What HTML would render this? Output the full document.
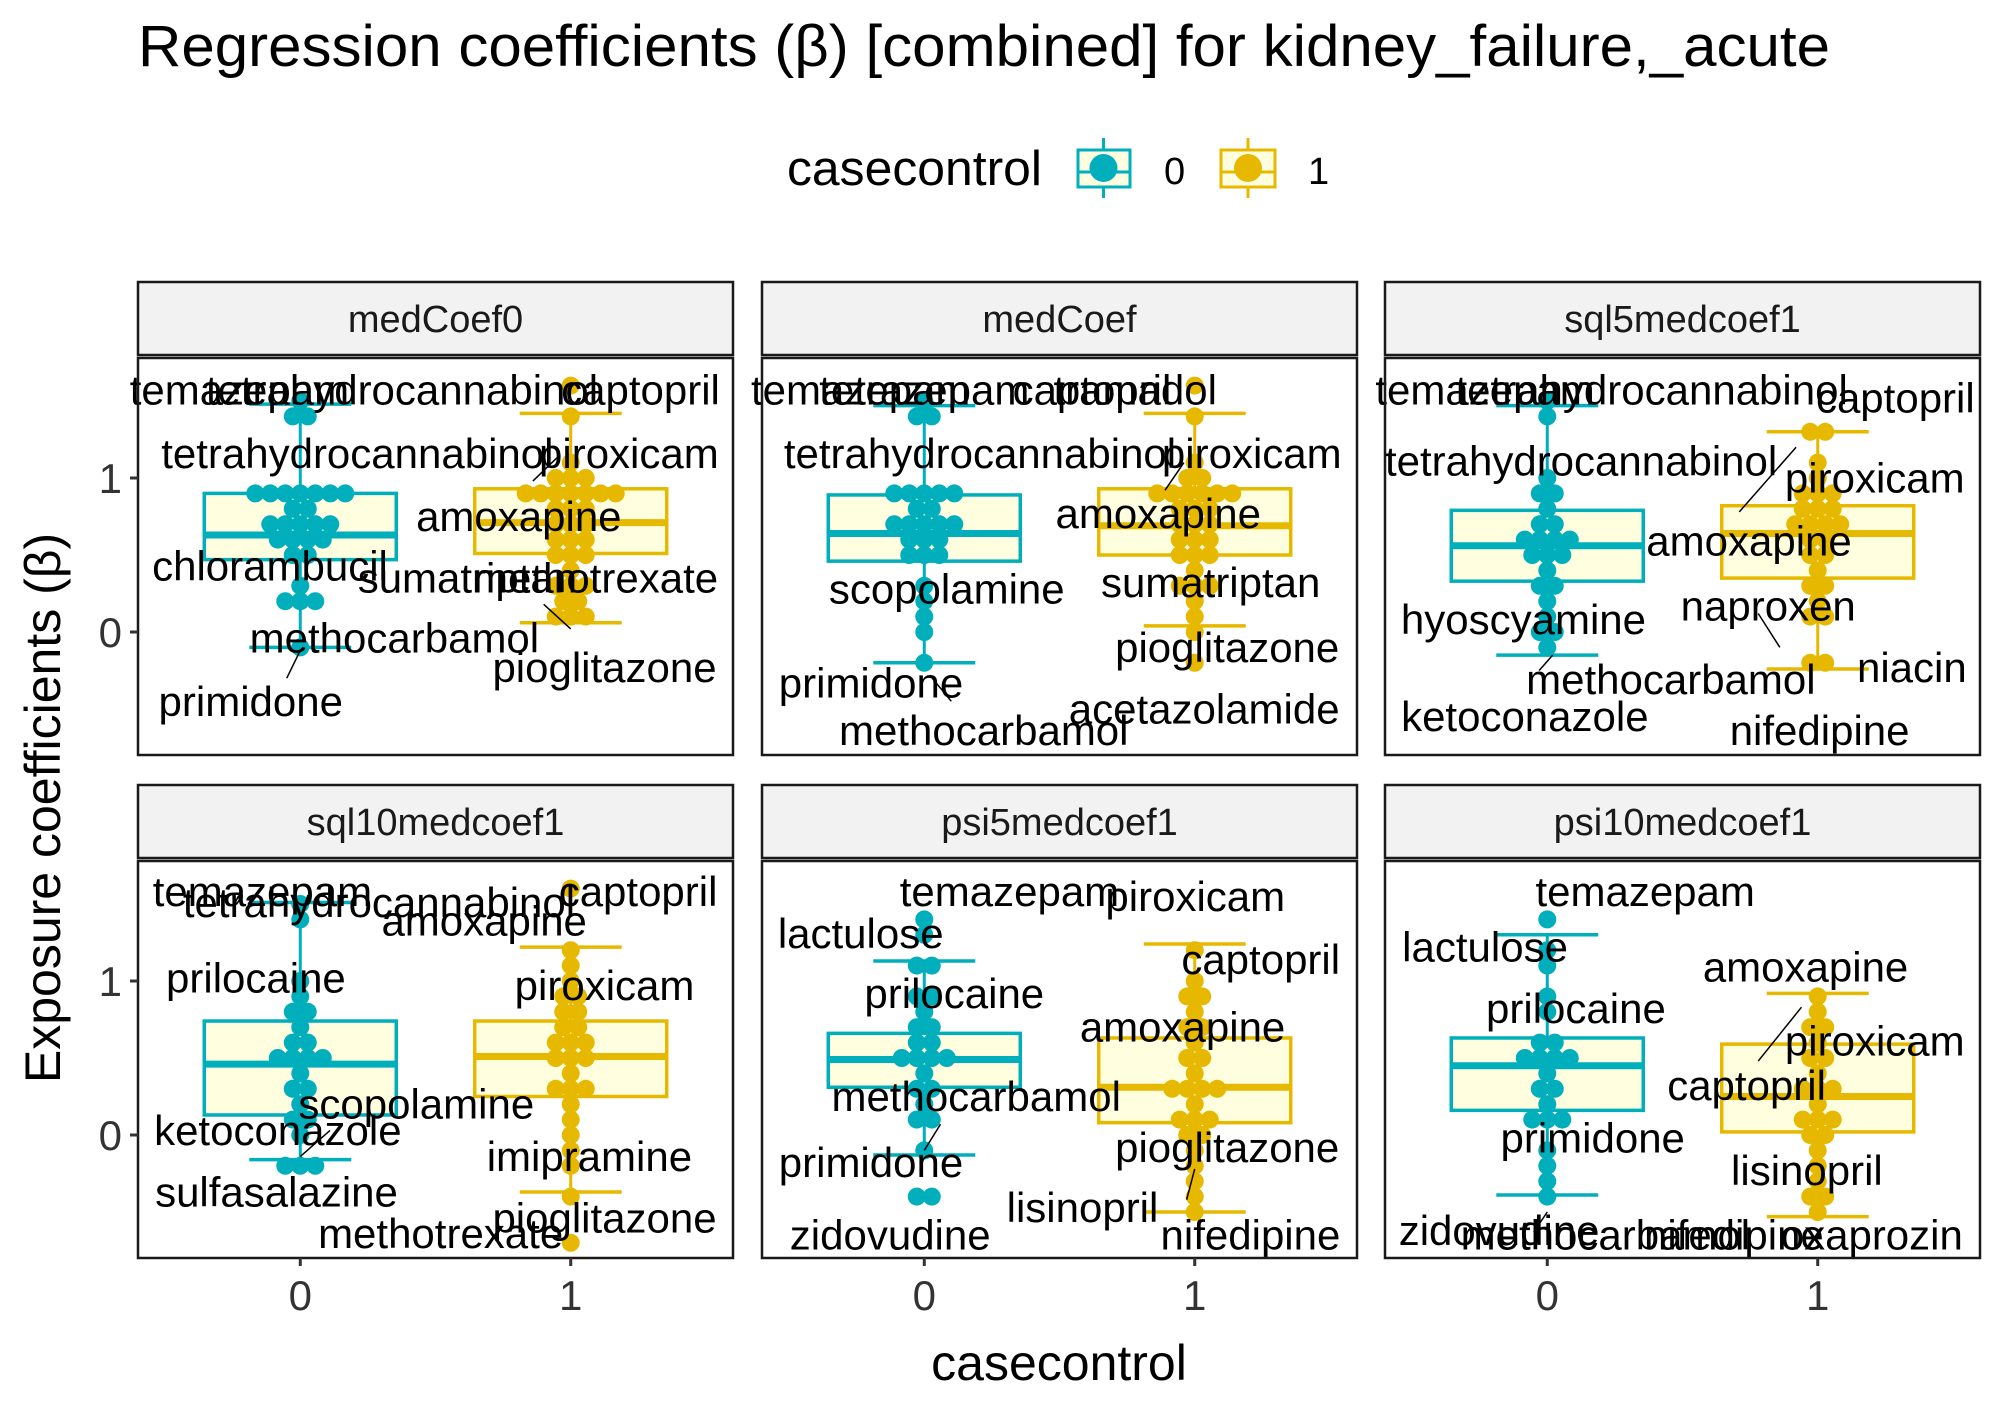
<!DOCTYPE html>
<html><head><meta charset="utf-8">
<style>
body{margin:0;background:#fff;}
svg{display:block;font-family:"Liberation Sans",sans-serif;}
</style></head>
<body>
<svg id="chart" width="2007" height="1417" viewBox="0 0 2007 1417" xmlns="http://www.w3.org/2000/svg">
<rect width="2007" height="1417" fill="#fff"/>
<text x="138" y="66" font-size="58" textLength="1692" lengthAdjust="spacingAndGlyphs">Regression coefficients (β) [combined]  for kidney_failure,_acute</text>
<g>
<text x="787" y="185" font-size="49" textLength="255" lengthAdjust="spacingAndGlyphs">casecontrol</text>
<g>
<line x1="1103.5" y1="138" x2="1103.5" y2="198" stroke="#00AFBB" stroke-width="3"/>
<rect x="1078" y="150" width="52" height="37" fill="#ffffe0" stroke="#00AFBB" stroke-width="3"/>
<line x1="1078" y1="172" x2="1130" y2="172" stroke="#00AFBB" stroke-width="3"/>
<circle cx="1103.5" cy="168" r="14" fill="#00AFBB"/>
<text x="1164" y="184" font-size="38">0</text>
</g>
<g>
<line x1="1248" y1="138" x2="1248" y2="198" stroke="#E7B800" stroke-width="3"/>
<rect x="1221" y="150" width="54" height="37" fill="#ffffe0" stroke="#E7B800" stroke-width="3"/>
<line x1="1221" y1="172" x2="1275" y2="172" stroke="#E7B800" stroke-width="3"/>
<circle cx="1248" cy="168" r="14" fill="#E7B800"/>
<text x="1308" y="184" font-size="38">1</text>
</g>
</g>
<text transform="translate(60,808) rotate(-90)" text-anchor="middle" font-size="50">Exposure coefficients (β)</text>
<text x="1059" y="1380" text-anchor="middle" font-size="50">casecontrol</text>
<g id="panels"></g>
</svg>
<script>
const panelNames = ["medCoef0","medCoef","sql5medcoef1","sql10medcoef1","psi5medcoef1","psi10medcoef1"];
const groups = ["0","1"];
const yTicks = [0,1];
// box stats per panel: [whiskerLow, Q1, median, Q3, whiskerHigh]
const box0 = [[-0.1,0.47,0.63,0.9,1.48],[-0.2,0.46,0.64,0.89,1.47],[-0.15,0.33,0.56,0.79,1.47],[-0.16,0.13,0.46,0.74,1.51],[-0.13,0.31,0.49,0.66,1.13],[-0.39,0.16,0.45,0.63,1.3]];
const box1 = [[0.06,0.51,0.71,0.93,1.42],[0.04,0.5,0.69,0.93,1.42],[-0.24,0.35,0.64,0.82,1.3],[-0.37,0.25,0.51,0.74,1.22],[-0.5,0.08,0.31,0.63,1.24],[-0.53,0.02,0.25,0.59,0.92]];
const pts0 = [
[1.48,1.4,1.4,0.95,0.95,0.95,0.95,0.9,0.9,0.9,0.8,0.8,0.72,0.72,0.65,0.65,0.65,0.6,0.6,0.6,0.55,0.5,0.45,0.35,0.22,0.22,0.22,-0.1],
[1.47,1.4,1.4,0.95,0.95,0.9,0.9,0.9,0.8,0.8,0.72,0.72,0.65,0.65,0.65,0.6,0.6,0.55,0.5,0.5,0.45,0.35,0.22,0.1,0.0,-0.2],
[1.47,1.4,1.0,0.9,0.85,0.8,0.7,0.65,0.6,0.6,0.55,0.55,0.5,0.5,0.45,0.4,0.35,0.3,0.2,0.1,0.0,-0.05,-0.15],
[1.51,1.35,1.0,0.9,0.8,0.75,0.7,0.6,0.55,0.5,0.5,0.45,0.45,0.4,0.35,0.3,0.2,0.1,0.05,0,-0.16,-0.16,-0.16],
[1.45,1.3,1.1,1.1,0.95,0.85,0.8,0.7,0.65,0.6,0.55,0.5,0.5,0.5,0.45,0.4,0.35,0.3,0.2,0.1,0.05,-0.1,-0.36,-0.36],
[1.45,1.22,1.1,0.95,0.75,0.6,0.55,0.5,0.5,0.45,0.45,0.4,0.35,0.3,0.2,0.15,0.15,0.05,-0.1,-0.2,-0.3,-0.39]];
const pts1 = [
[1.62,1.42,1.1,1.0,1.0,1.0,0.95,0.95,0.9,0.9,0.9,0.9,0.85,0.8,0.8,0.75,0.7,0.7,0.65,0.6,0.6,0.55,0.5,0.5,0.45,0.4,0.35,0.3,0.25,0.2,0.2,0.1,0.06,0.06],
[1.62,1.42,1.1,1.0,1.0,0.95,0.95,0.9,0.9,0.9,0.85,0.8,0.8,0.75,0.7,0.7,0.65,0.6,0.6,0.55,0.5,0.5,0.45,0.4,0.35,0.3,0.25,0.2,0.1,0.04,-0.2],
[1.3,1.25,1.1,1.0,0.95,0.9,0.85,0.8,0.8,0.75,0.7,0.7,0.65,0.65,0.6,0.55,0.5,0.45,0.4,0.35,0.3,0.2,0.1,0.05,-0.2,-0.24],
[1.58,1.2,1.15,1.0,0.9,0.85,0.8,0.75,0.7,0.65,0.6,0.55,0.55,0.5,0.5,0.45,0.4,0.35,0.3,0.25,0.2,0.1,0.0,-0.1,-0.2,-0.37,-0.66],
[1.24,1.0,0.95,0.85,0.8,0.7,0.65,0.6,0.5,0.45,0.4,0.35,0.3,0.3,0.25,0.2,0.15,0.1,0.05,0,-0.05,-0.1,-0.2,-0.3,-0.4,-0.5],
[0.92,0.8,0.7,0.65,0.6,0.5,0.45,0.4,0.35,0.3,0.25,0.2,0.15,0.1,0.05,0,-0.05,-0.15,-0.25,-0.35,-0.4,-0.45,-0.5]];
// labels: [text, x (discrete axis units), y value]
const labels = [
[["temazepam",-0.225,1.57],["tetrahydrocannabinol",0.376,1.57],["captopril",1.258,1.57],["tetrahydrocannabinol",0.211,1.16],["piroxicam",1.215,1.16],["amoxapine",0.808,0.75],["chlorambucil",-0.112,0.43],["sumatriptan",0.618,0.35],["methotrexate",1.092,0.35],["methocarbamol",0.348,-0.04],["primidone",-0.183,-0.45],["pioglitazone",1.125,-0.23]],
[["temazepam",-0.235,1.57],["tetrazepam",0.0,1.57],["captopril",0.62,1.57],["tramadol",0.78,1.57],["tetrahydrocannabinol",0.206,1.16],["piroxicam",1.211,1.16],["amoxapine",0.865,0.77],["scopolamine",0.083,0.28],["sumatriptan",1.059,0.32],["primidone",-0.197,-0.33],["methocarbamol",0.22,-0.64],["pioglitazone",1.12,-0.1],["acetazolamide",1.035,-0.5]],
[["temazepam",-0.23,1.57],["tetrahydrocannabinol",0.386,1.57],["captopril",1.287,1.52],["tetrahydrocannabinol",0.125,1.11],["piroxicam",1.211,1.0],["amoxapine",0.746,0.59],["hyoscyamine",-0.088,0.08],["naproxen",0.817,0.17],["niacin",1.348,-0.23],["methocarbamol",0.457,-0.31],["ketoconazole",-0.083,-0.55],["nifedipine",1.007,-0.64]],
[["temazepam",-0.14,1.58],["tetrahydrocannabinol",0.291,1.51],["captopril",1.249,1.58],["amoxapine",0.68,1.39],["prilocaine",-0.164,1.02],["piroxicam",1.125,0.97],["scopolamine",0.429,0.2],["ketoconazole",-0.083,0.03],["imipramine",1.069,-0.14],["sulfasalazine",-0.088,-0.37],["pioglitazone",1.125,-0.54],["methotrexate",0.519,-0.64]],
[["temazepam",0.315,1.58],["piroxicam",1.002,1.55],["lactulose",-0.235,1.31],["captopril",1.244,1.14],["prilocaine",0.111,0.92],["amoxapine",0.955,0.70],["methocarbamol",0.192,0.25],["primidone",-0.197,-0.18],["pioglitazone",1.12,-0.08],["lisinopril",0.585,-0.47],["zidovudine",-0.126,-0.65],["nifedipine",1.206,-0.65]],
[["temazepam",0.362,1.58],["lactulose",-0.23,1.22],["amoxapine",0.955,1.09],["prilocaine",0.106,0.82],["piroxicam",1.211,0.61],["captopril",0.737,0.32],["primidone",0.168,-0.02],["lisinopril",0.96,-0.23],["zidovudine",-0.178,-0.62],["methocarbamol",0.215,-0.65],["nifedipine",0.69,-0.65],["oxaprozin",1.2,-0.65]]];
// segments: [x1,v1,x2,v2]
const segs = [
[[-0.05,-0.3,0.0,-0.12],[0.86,0.98,0.96,1.15],[1.0,0.02,0.9,0.18]],
[[0.02,-0.28,0.1,-0.45],[0.89,0.92,0.96,1.1]],
[[0.71,0.78,0.92,1.2],[0.78,0.12,0.86,-0.1],[-0.03,-0.25,0.02,-0.15]],
[[0.0,-0.14,0.11,0.03]],
[[0.06,0.07,0.0,-0.1],[1.0,-0.22,0.97,-0.42]],
[[0.78,0.48,0.94,0.83],[-0.05,-0.63,0.0,-0.5]]];

const NS="http://www.w3.org/2000/svg";
const colL=[138,762,1385], PW=595, rowT=[358,861], PH=397, zeroY=[632,1135], PX=154;
const cols=["#00AFBB","#E7B800"];
const root=document.getElementById('panels');
function mk(tag,attrs,parent){const e=document.createElementNS(NS,tag);for(const k in attrs)e.setAttribute(k,attrs[k]);(parent||root).appendChild(e);return e;}
panelNames.forEach((name,p)=>{
  const c=p%3, r=Math.floor(p/3), L=colL[c], T=rowT[r];
  const xs=d=>L+(d+0.6)/2.2*PW;
  const ys=v=>zeroY[r]-v*PX;
  const g=mk('g',{});
  
  
  const strip=mk('rect',{x:L,y:T-76,width:PW,height:73,fill:'#f2f2f2',stroke:'#1a1a1a','stroke-width':2.5},g);
  
  
  const st=mk('text',{x:L+PW/2,y:T-26,'text-anchor':'middle','font-size':38,fill:'#1a1a1a'},g);
  st.textContent=name;
  
  
  const bg=mk('rect',{x:L,y:T,width:PW,height:PH,fill:'#fff'},g);
  
  
  [box0[p],box1[p]].forEach((b,gi)=>{
    const cx=xs(gi), col=cols[gi];
    const bx=mk('g',{},g);
    
    
    mk('line',{x1:cx,x2:cx,y1:ys(b[0]),y2:ys(b[4]),stroke:col,'stroke-width':3},bx);
    mk('line',{x1:cx-51,x2:cx+51,y1:ys(b[0]),y2:ys(b[0]),stroke:col,'stroke-width':3.5},bx);
    mk('line',{x1:cx-51,x2:cx+51,y1:ys(b[4]),y2:ys(b[4]),stroke:col,'stroke-width':3.5},bx);
    mk('rect',{x:cx-96,y:ys(b[3]),width:192,height:ys(b[1])-ys(b[3]),fill:'#ffffe0',stroke:col,'stroke-width':3.5},bx);
    mk('line',{x1:cx-96,x2:cx+96,y1:ys(b[2]),y2:ys(b[2]),stroke:col,'stroke-width':7},bx);
    const pts=(gi?pts1:pts0)[p];
    const bins={};
    pts.forEach(v=>{const k=Math.round(v/0.1);(bins[k]=bins[k]||[]).push(v);});
    Object.keys(bins).forEach(k=>{
      const arr=bins[k], n=arr.length;
      arr.forEach((v,i)=>{
        const dot=mk('circle',{cx:cx+(i-(n-1)/2)*15,cy:ys(k*0.1),r:9,fill:col},bx);
        
        
      });
    });
  });
  segs[p].forEach(s=>{mk('line',{x1:xs(s[0]),y1:ys(s[1]),x2:xs(s[2]),y2:ys(s[3]),stroke:'#000','stroke-width':1.5},g);});
  labels[p].forEach(l=>{
    const t=mk('text',{x:xs(l[1]),y:ys(l[2]),'text-anchor':'middle','dominant-baseline':'central','font-size':42},g);
    t.textContent=l[0];
    
    
  });
  const fr=mk('rect',{x:L,y:T,width:PW,height:PH,fill:'none',stroke:'#1a1a1a','stroke-width':2.5},g);
  
  
  if(c===0){
    yTicks.forEach(v=>{
      mk('line',{x1:L-8,x2:L,y1:ys(v),y2:ys(v),stroke:'#333','stroke-width':3},g);
      const t=mk('text',{x:L-16,y:ys(v)+15,'text-anchor':'end','font-size':42,fill:'#333'},g);
      t.textContent=String(v);
      
      
    });
  }
  if(r===1){
    groups.forEach((gname,gi)=>{
      mk('line',{x1:xs(gi),x2:xs(gi),y1:T+PH,y2:T+PH+8,stroke:'#333','stroke-width':3},g);
      const t=mk('text',{x:xs(gi),y:T+PH+52,'text-anchor':'middle','font-size':42,fill:'#333'},g);
      t.textContent=gname;
      
      
    });
  }
});
</script>
</body></html>
